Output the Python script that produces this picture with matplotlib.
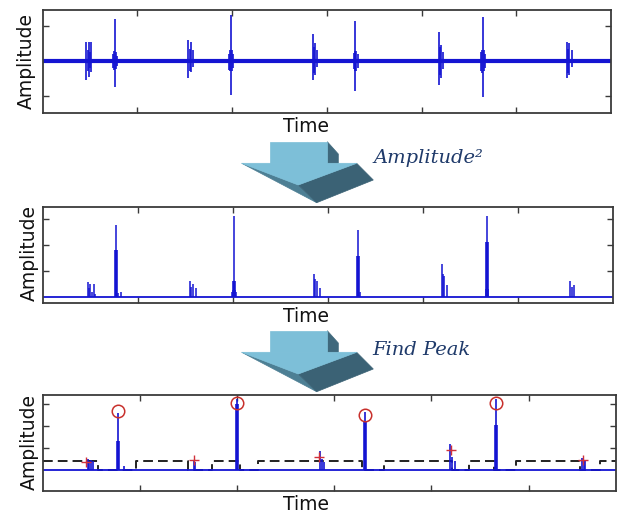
import matplotlib
matplotlib.use("Agg")
import matplotlib.pyplot as plt
from matplotlib.patches import Polygon

# ---------------- data ----------------
# Panel 1: raw signal (spikes: time, upper extent, lower extent)
raw_t  = [0.46, 0.475, 0.49, 0.505, 0.516,
          0.745, 0.755, 0.764, 0.775, 0.79,
          1.54, 1.555, 1.565, 1.59,
          1.965, 1.975, 1.985, 1.995, 2.01,
          2.853, 2.865, 2.875, 2.90,
          3.285, 3.295, 3.302, 3.31, 3.325,
          4.183, 4.195, 4.205, 4.23,
          4.63, 4.64, 4.645, 4.655, 4.67,
          5.538, 5.55, 5.56, 5.59]
raw_hi = [0.54, 0.30, 0.54, 0.25, 0.54,
          0.20, 0.28, 1.20, 0.25, 0.15,
          0.58, 0.35, 0.55, 0.30,
          0.20, 0.30, 1.30, 0.30, 0.20,
          0.77, 0.40, 0.50, 0.30,
          0.22, 0.28, 1.15, 0.28, 0.20,
          0.82, 0.40, 0.45, 0.26,
          0.25, 0.30, 1.25, 0.30, 0.20,
          0.54, 0.35, 0.50, 0.30]
raw_lo = [-0.55, -0.30, -0.45, -0.20, -0.31,
          -0.20, -0.25, -0.75, -0.22, -0.15,
          -0.50, -0.30, -0.31, -0.17,
          -0.25, -0.30, -0.97, -0.30, -0.20,
          -0.55, -0.35, -0.41, -0.17,
          -0.22, -0.28, -0.85, -0.28, -0.20,
          -0.69, -0.40, -0.50, -0.22,
          -0.30, -0.35, -1.02, -0.30, -0.20,
          -0.50, -0.35, -0.41, -0.17]
raw_base_t = [0.0, 6.0]
raw_base_v = [0.0, 0.0]

# Panel 2: squared amplitude
sq_t = [0.474, 0.49, 0.504, 0.52, 0.541, 0.555,
        0.776, 0.79, 0.83,
        1.553, 1.565, 1.578, 1.611,
        1.995, 2.005, 2.014, 2.025, 2.04,
        2.857, 2.87, 2.882, 2.916,
        3.323, 3.335,
        4.20, 4.212, 4.225, 4.259,
        4.66, 4.67, 4.685,
        5.551, 5.565, 5.585]
sq_h = [0.56, 0.35, 0.50, 0.20, 0.50, 0.10,
        2.75, 0.15, 0.20,
        0.63, 0.40, 0.50, 0.35,
        0.20, 0.26, 3.11, 0.26, 0.20,
        0.89, 0.70, 0.60, 0.35,
        2.56, 0.20,
        1.25, 0.90, 0.80, 0.45,
        0.30, 3.11, 0.30,
        0.60, 0.40, 0.45]
sq_core_t = [0.776, 2.014, 3.323, 4.67]
sq_core_h = [1.80, 0.60, 1.57, 2.09]
sq_base_t = [0.0, 6.0]
sq_base_v = [0.0, 0.0]

# Panel 3: peak detection
pk_t = [0.464, 0.482, 0.494, 0.522,
        0.781, 0.836,
        1.554, 1.573,
        2.006,
        2.852, 2.871, 2.901,
        3.318,
        4.194, 4.209, 4.239,
        4.667,
        5.551, 5.566, 5.581]
pk_h = [0.51, 0.40, 0.45, 0.40,
        2.57, 0.20,
        0.45, 0.35,
        3.24,
        0.85, 0.50, 0.35,
        2.65,
        1.20, 0.60, 0.40,
        3.24,
        0.56, 0.45, 0.40]
pk_core_t = [0.781, 2.006, 3.318, 4.667]
pk_core_h = [1.32, 3.00, 2.20, 2.03]
pk_base_t = [0.0, 5.9]
pk_base_v = [0.0, 0.0]
peak_t = [0.781, 2.006, 3.318, 4.667]
peak_v = [2.68, 3.06, 2.50, 3.06]
cand_t = [0.452, 1.562, 2.845, 4.206, 5.562]
cand_v = [0.37, 0.44, 0.59, 0.91, 0.44]
thr_t = [0.0, 0.575, 0.967, 1.50, 1.747, 2.035, 2.22, 3.289, 3.515,
         4.215, 4.387, 4.646, 4.872, 5.53, 5.736, 5.9]
thr_v = [0.41, 0, 0.41, 0, 0.41, 0, 0.41, 0, 0.41,
         0, 0.41, 0, 0.41, 0, 0.41, 0.41]

xticks12 = [1, 2, 3, 4, 5]
yticks1 = [-1, 1]
yticks23 = [1, 2, 3]

# ---------------- figure ----------------
W, H = 625, 515
fig = plt.figure(figsize=(W / 100, H / 100), dpi=100)
fig.patch.set_facecolor("white")


def box(l, t, r, b):
    return [l / W, 1 - b / H, (r - l) / W, (b - t) / H]


BLUE = "#1414d2"
SPINE = "#3a3a3a"


def style(ax, xlim, ylim, yt):
    ax.set_xlim(*xlim)
    ax.set_ylim(*ylim)
    ax.set_xticks(xticks12)
    ax.set_yticks(yt)
    ax.tick_params(direction="in", length=4, width=1.0, color=SPINE,
                   top=True, right=True, labelbottom=False, labelleft=False)
    for s in ax.spines.values():
        s.set_color(SPINE)
        s.set_linewidth(1.3)


ax1 = fig.add_axes(box(42.5, 10, 611, 113))
ax2 = fig.add_axes(box(42.5, 206.7, 613, 303))
ax3 = fig.add_axes(box(42.5, 395, 616, 491))

# panel 1
ax1.plot(raw_base_t, raw_base_v, color=BLUE, lw=3.0, solid_capstyle="butt")
ax1.vlines(raw_t, raw_lo, raw_hi, color=BLUE, lw=1.2)
style(ax1, (0, 6), (-1.49, 1.45), yticks1)

# panel 2
ax2.plot(sq_base_t, sq_base_v, color=BLUE, lw=1.3)
ax2.vlines(sq_t, 0, sq_h, color=BLUE, lw=1.1)
ax2.vlines(sq_core_t, 0, sq_core_h, color=BLUE, lw=2.6)
style(ax2, (0, 6), (-0.23, 3.46), yticks23)

# panel 3
ax3.step(thr_t, thr_v, where="post", color="#222222", lw=1.4,
         linestyle=(0, (5, 2.6)))
ax3.plot(pk_base_t, pk_base_v, color=BLUE, lw=1.3)
ax3.vlines(pk_t, 0, pk_h, color=BLUE, lw=1.2)
ax3.vlines(pk_core_t, 0, pk_core_h, color=BLUE, lw=2.6)
ax3.plot(peak_t, peak_v, linestyle="none", marker="o", ms=9,
         mfc="none", mec="#c8302c", mew=1.1)
ax3.plot(cand_t, cand_v, linestyle="none", marker="+", ms=7,
         mec="#d0303a", mew=1.0)
style(ax3, (0, 5.9), (-0.95, 3.41), yticks23)

# axis labels
lab = dict(fontsize=13.5, family="DejaVu Sans", color="#111111")
for (x, y) in [(26, 61), (29, 253), (29, 442)]:
    fig.text(x / W, 1 - y / H, "Amplitude", rotation=90,
             ha="center", va="center", **lab)
for y in [126.5, 316.5, 504]:
    fig.text(306 / W, 1 - y / H, "Time", ha="center", va="center", **lab)

# 3D block arrows
LIGHT = "#7dbfd8"
SIDE = "#3f687c"
LEFTF = "#4d7f94"
RIGHTF = "#3b6275"


def px(pts, dy):
    return [(x / W, 1 - (y + dy) / H) for x, y in pts]


def arrow(dy):
    shapes = [
        ([(327.3, 141.7), (338.3, 154), (338.3, 163.3), (327.3, 163.3)], SIDE),
        ([(241.7, 163.3), (298.3, 185), (316.7, 202.7)], LEFTF),
        ([(356.7, 163.3), (373.3, 180), (316.7, 202.7), (298.3, 185)], RIGHTF),
        ([(270, 141.7), (327.3, 141.7), (327.3, 163.3), (270, 163.3)], LIGHT),
        ([(241.7, 163.3), (356.7, 163.3), (298.3, 185)], LIGHT),
    ]
    for pts, c in shapes:
        fig.add_artist(Polygon(px(pts, dy), closed=True, facecolor=c,
                               edgecolor=c, lw=0.5, transform=fig.transFigure))


arrow(0)
arrow(189)

anno = dict(fontsize=14, family="DejaVu Serif", style="italic",
            color="#1f3a6a", ha="left", va="baseline")
fig.text(373 / W, 1 - 163 / H, "Amplitude²", **anno)
fig.text(372 / W, 1 - 355 / H, "Find Peak", **anno)

fig.savefig("out.png", dpi=100, facecolor="white")
